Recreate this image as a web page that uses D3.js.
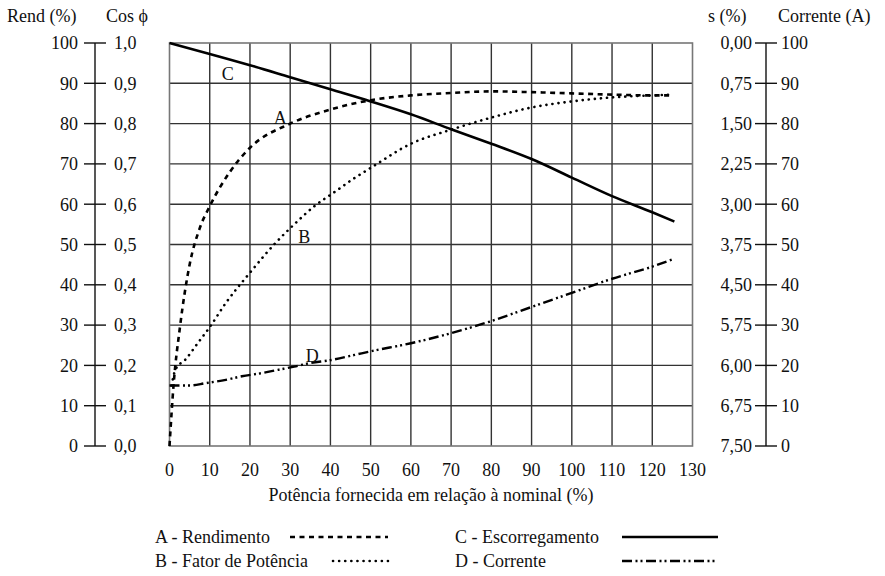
<!DOCTYPE html>
<html>
<head>
<meta charset="utf-8">
<script src="https://cdn.jsdelivr.net/npm/d3@7"></script>
<style>
  body { margin: 0; background: #fff; }
  svg text { font-family: "Times New Roman", "Liberation Serif", Tinos, "DejaVu Serif", serif; }
</style>
</head>
<body>
<div id="chart"></div>
<script>
// ---- data ----
var xTicks = [0, 10, 20, 30, 40, 50, 60, 70, 80, 90, 100, 110, 120, 130];
var rendTicks = [0, 10, 20, 30, 40, 50, 60, 70, 80, 90, 100];
var cosTicks = ["0,0", "0,1", "0,2", "0,3", "0,4", "0,5", "0,6", "0,7", "0,8", "0,9", "1,0"];
var sTicks = ["7,50", "6,75", "6,00", "5,75", "4,50", "3,75", "3,00", "2,25", "1,50", "0,75", "0,00"];
var correnteTicks = [0, 10, 20, 30, 40, 50, 60, 70, 80, 90, 100];

// A - Rendimento
var potA = [0, 1, 2.6, 5, 7.5, 10, 15, 20, 30, 40, 50, 60, 70, 80, 90, 100, 110, 120, 125];
var rendimento = [0, 15, 29.5, 45, 54, 59.5, 68, 74, 80, 83.5, 85.8, 87, 87.6, 88, 87.8, 87.5, 87.2, 87, 87];
// B - Fator de potencia
var potB = [0.5, 1.5, 4, 7, 10, 14, 20, 26, 31, 36, 41, 46, 50, 60, 70, 80, 90, 100, 110, 120, 125];
var fatorPotencia = [15, 19, 21.5, 25.5, 29.5, 35.5, 43, 50, 55, 59.5, 63, 66.5, 69, 75, 78.5, 81.5, 84, 85.5, 86.5, 87, 87.2];
// C - Escorregamento
var potC = [0, 10, 20, 30, 40, 50, 60, 70, 80, 90, 100, 110, 120, 125.5];
var escorregamento = [100, 97.3, 94.5, 91.5, 88.5, 85.5, 82.3, 78.6, 75, 71.2, 66.6, 62, 58, 55.7];
// D - Corrente
var potD = [0, 5, 9, 14, 18, 23, 27, 31, 35, 40, 46, 50, 60, 70, 80, 90, 100, 110, 120, 125];
var corrente = [15, 15, 15.6, 16.4, 17.3, 18.1, 18.9, 19.7, 20.6, 21.3, 22.6, 23.5, 25.5, 28, 31, 34.5, 38, 41.5, 44.5, 46.3];

var seriesList = [
  { name: "A - Rendimento", label: "A", x: potA, y: rendimento, dash: "5,4.5", width: 2.6, cap: "butt", lab: [27.5, 81.5] },
  { name: "B - Fator de Potência", label: "B", x: potB, y: fatorPotencia, dash: "0.1,6", width: 2.6, cap: "round", lab: [33.5, 52] },
  { name: "C - Escorregamento", label: "C", x: potC, y: escorregamento, dash: null, width: 2.6, cap: "butt", lab: [14.5, 92.5] },
  { name: "D - Corrente", label: "D", x: potD, y: corrente, dash: "10,3.5,2,3,2,3.5", width: 2.4, cap: "butt", lab: [35.5, 22.5] }
];

// ---- layout ----
var W = 885, H = 576;
var svg = d3.select("#chart").append("svg")
    .attr("width", W).attr("height", H)
    .attr("fill", "#111");

var x = d3.scaleLinear().domain([0, 130]).range([169.5, 692.5]);
var y = d3.scaleLinear().domain([0, 100]).range([446, 43]);

var fs = 18;

// grid
var grid = svg.append("g");
grid.selectAll(".vg").data(xTicks.slice(1, -1)).enter().append("line")
    .attr("x1", d => x(d)).attr("x2", d => x(d))
    .attr("y1", y(0)).attr("y2", y(100))
    .attr("stroke", "#333").attr("stroke-width", 1.4);
grid.selectAll(".hg").data(rendTicks.slice(1, -1)).enter().append("line")
    .attr("x1", x(0)).attr("x2", x(130))
    .attr("y1", d => y(d)).attr("y2", d => y(d))
    .attr("stroke", "#333").attr("stroke-width", 1.4);
grid.append("rect")
    .attr("x", x(0)).attr("y", y(100))
    .attr("width", x(130) - x(0)).attr("height", y(0) - y(100))
    .attr("fill", "none").attr("stroke", "#777").attr("stroke-width", 1.6);

// x tick labels
svg.append("g").selectAll("text").data(xTicks).enter().append("text")
    .attr("x", d => x(d)).attr("y", 476)
    .attr("text-anchor", "middle").attr("font-size", fs)
    .text(d => d);
svg.append("text")
    .attr("x", x(65)).attr("y", 501)
    .attr("text-anchor", "middle").attr("font-size", fs)
    .text("Potência fornecida em relação à nominal (%)");

// detached side axes (Rend % / Cos phi and s % / Corrente)
function sideAxis(ax, leftLabels, rightLabels, leftEnd, rightStart) {
  var g = svg.append("g");
  g.append("line").attr("x1", ax).attr("x2", ax).attr("y1", y(0)).attr("y2", y(100))
      .attr("stroke", "#111").attr("stroke-width", 1.4);
  g.selectAll(".tk").data(rendTicks).enter().append("line")
      .attr("x1", ax - 11).attr("x2", ax + 11)
      .attr("y1", d => y(d)).attr("y2", d => y(d))
      .attr("stroke", "#111").attr("stroke-width", 1.4);
  g.selectAll(".ll").data(rendTicks).enter().append("text")
      .attr("x", leftEnd).attr("y", d => y(d)).attr("dy", "0.35em")
      .attr("text-anchor", "end").attr("font-size", fs)
      .text((d, i) => leftLabels[i]);
  g.selectAll(".rl").data(rendTicks).enter().append("text")
      .attr("x", rightStart).attr("y", d => y(d)).attr("dy", "0.35em")
      .attr("text-anchor", "start").attr("font-size", fs)
      .text((d, i) => rightLabels[i]);
}
sideAxis(95, rendTicks, cosTicks, 78, 114);
sideAxis(766, sTicks, correnteTicks, 752, 781);

// axis headers
var headers = [["Rend (%)", 7], ["Cos ϕ", 106], ["s (%)", 708], ["Corrente (A)", 778]];
svg.selectAll(".hdr").data(headers).enter().append("text")
    .attr("x", d => d[1]).attr("y", 22).attr("font-size", fs)
    .text(d => d[0]);

// curves
var line = d3.line().curve(d3.curveMonotoneX);
seriesList.forEach(function (s) {
  var pts = s.x.map((v, i) => [x(v), y(s.y[i])]);
  svg.append("path").attr("d", line(pts))
      .attr("fill", "none").attr("stroke", "#000")
      .attr("stroke-width", s.width)
      .attr("stroke-linecap", s.cap)
      .attr("stroke-dasharray", s.dash);
  svg.append("text")
      .attr("x", x(s.lab[0])).attr("y", y(s.lab[1])).attr("dy", "0.35em")
      .attr("text-anchor", "middle").attr("font-size", fs)
      .text(s.label);
});

// legend
var legendPos = [
  { tx: 155, ty: 543, x1: 290, x2: 388 },
  { tx: 155, ty: 567, x1: 333, x2: 388 },
  { tx: 455, ty: 543, x1: 622, x2: 718 },
  { tx: 455, ty: 567, x1: 622, x2: 718 }
];
seriesList.forEach(function (s, i) {
  var p = legendPos[i];
  svg.append("text").attr("x", p.tx).attr("y", p.ty)
      .attr("font-size", fs).text(s.name);
  svg.append("line")
      .attr("x1", p.x1).attr("x2", p.x2)
      .attr("y1", p.ty - 6).attr("y2", p.ty - 6)
      .attr("stroke", "#000").attr("stroke-width", s.width)
      .attr("stroke-linecap", s.cap)
      .attr("stroke-dasharray", s.dash);
});
</script>
</body>
</html>
